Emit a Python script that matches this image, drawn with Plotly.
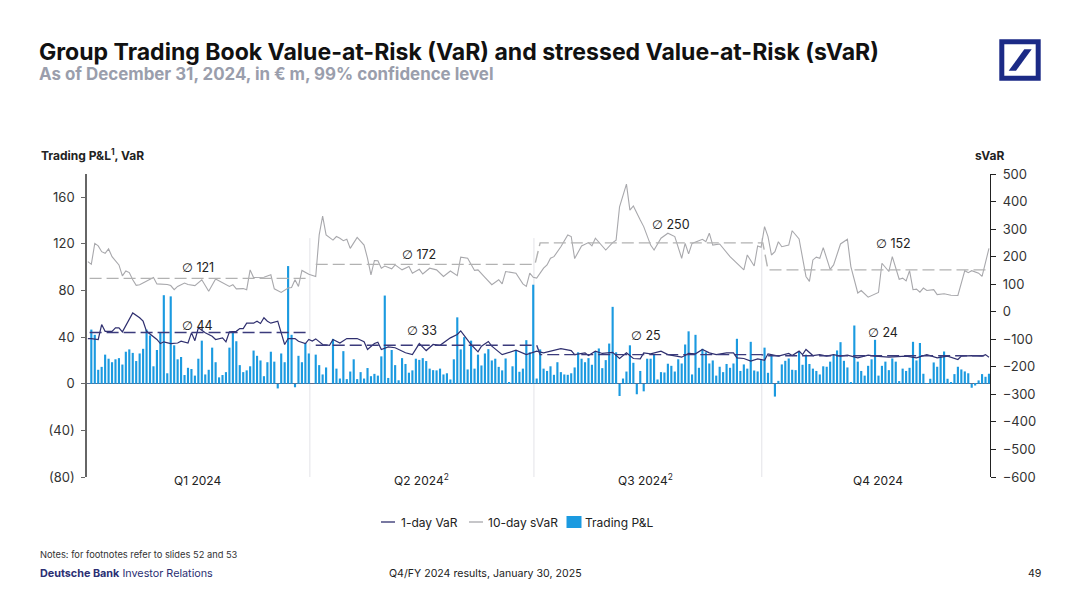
import plotly.graph_objects as go

# =============================================================================
# data
# =============================================================================
pnl_q1 = [46.5, 42, 12, 14.5, 25, 21.5, 18.5, 21, 22, 16.5, 27.5, 29.5, 26.5, 19.5, 26, 30, 46.5, 41.5, 15, 29,
          44, 76, 9, 75, 33, 21, 23, 7.5, 13.7, 12.7, 7, 21.5, 37, 8, 12, 31, 18.5, 5.5, 7.5, 10, 31, 45, 36.5,
          16, 10, 11.5, 15, 28.5, 24, 20, 6.5, 18.5, 27.5, 19, -4, 26, 18.5, 101, 42, -3, 24, 18.5, 35, 26, 0]
pnl_q2 = [25, 16, 8, 14, 0, 38.5, 13, 4.5, 28, 4, 10.5, 21, 4, 10, 4.5, 13.5, 6.5, 8.5, 7, 23.5, 75.7, 5,
          29, 16, 3, 22, 17, 9.5, 11.5, 21.5, 20.5, 22, 19.5, 13, 11.7, 11.5, 13, 8, 9, 3.7, 21, 57, 29.5, 40, 12.3,
          37, 13, 25, 15.7, 26, 29.7, 20, 21.5, 14.5, 11.5, 21.7, 1, 15, 28.3, 10.3, 13, 37.4, 27, 85, 4.5]
pnl_q3 = [29.5, 13, 11, 15, 7.7, 18.5, 10, 8, 7.7, 9, 14, 27, 21.5, 18.5, 22, 16.3, 28, 30.3, 13.4, 20.3, 34.5, 66,
          27, -10.5, 4.5, 10.5, 33, 18, -9, 11, -6.5, 21.5, 21.5, 25, 3.7, 10, 9.7, 17.2, 15.4, 10.5, 21, 17.4, 33.7, 45,
          8, 42, 13.7, 30, 27, 17.4, 20, 7, 14.6, 10, 17, 13.7, 17.4, 38.6, 11, 16.6, 13, 36, 11.4, 10.6, 20.3, 31]
pnl_q4 = [9.4, 25, -11, 2.5, 16.6, 19.7, 21.7, 12, 11.7, 27.7, 16.3, 25, 17, 13, 11, 8, 15, 14.6, 19, 24.9, 28.6,
          35.7, 19.7, 14, 1, 50, 19, 11, 7, 15.4, 21, 37.7, 7, 15.4, 19, 11.7, 21.7, 19, 2.3, 13, 11, 13.7, 36, 20, 35,
          8.6, 0.3, 4.3, 18.3, 14.6, 24.6, 27.7, 4.3, 1, 8.3, 14.6, 12.3, 10.6, 9, -3.4, -1.5, 2.9, 8.3, 6, 8.6]
pnl = pnl_q1 + pnl_q2 + pnl_q3 + pnl_q4
days = list(range(len(pnl)))

var_days = [-1, 0, 2, 3, 4, 6, 7, 8, 9, 12, 14, 15, 16, 18, 19, 20, 21, 23, 25, 26, 28, 29, 30, 31, 33, 35, 36, 38, 39, 40,
            42, 43, 44, 45, 47, 48, 49, 50, 51, 52, 54, 55, 56, 57, 59, 60, 62, 63, 64, 65, 67, 69, 70, 72, 74, 77, 79,
            80, 82, 83, 84, 86, 88, 91, 93, 95, 97, 99, 101, 104, 106, 107, 109, 110, 112, 113, 115, 116, 119, 123, 126,
            129, 131, 134, 136, 139, 140, 143, 144, 146, 148, 151, 153, 155, 157, 159, 160, 162, 165, 167, 169, 171, 173,
            175, 177, 179, 181, 184, 186, 187, 189, 191, 193, 195, 196, 199, 202, 203, 205, 206, 207, 209, 211, 213, 215,
            217, 219, 222, 225, 227, 231, 236, 239, 242, 245, 248, 251, 252, 255, 258, 259, 260]
var_1d = [38.8, 38.8, 38, 50.8, 45, 45, 48, 48, 44.5, 60.8, 56.6, 53.7, 45, 40.8, 38, 34.5, 36, 34.5, 35, 36.5, 35, 43.7, 37,
          48, 43.7, 40.8, 38, 39.4, 36, 44.5, 45, 47.4, 47.4, 52, 52, 53.7, 51.7, 56.6, 53.7, 52, 53.7, 43.7, 33.7, 38.8,
          38.8, 36.5, 34.5, 38, 36.6, 38.5, 33.7, 33, 38, 35, 38.8, 38.8, 36, 29.4, 34.5, 35.7, 29.4, 31.7, 30.9, 26.6, 25,
          34.5, 28.5, 33.7, 33, 39.4, 42.3, 45.4, 37.4, 33.7, 27.4, 32.3, 36.3, 32.3, 25, 28.8, 25, 28, 26.5, 28.5, 30.2,
          28.5, 25, 26.5, 24.2, 28, 26, 27, 21.7, 26.5, 21.7, 21.4, 26.5, 25.7, 28, 25, 24.2, 22.8, 26, 25.7, 29.4, 26.5, 25,
          26.5, 26.5, 22.2, 21.7, 19.4, 21.4, 20.2, 25.7, 23.7, 26, 24.2, 28, 25, 29.4, 24.2, 25, 23.7, 25, 23.7, 24.5, 22.2,
          24.5, 23.7, 22.8, 23.7, 22.2, 25, 22.2, 23.7, 20.8, 23.7, 24.2, 23.7, 25, 22.8]

svar_days = [-1, 0, 1, 2, 3, 4, 5, 6, 8, 9, 10, 11, 12, 13, 14, 16, 18, 19, 22, 23, 24, 25, 27, 28, 30, 32, 34, 36, 38, 40, 41,
             42, 44, 45, 46, 47, 50, 52, 53, 55, 57, 58, 59, 60, 61, 63, 65, 66, 67, 68, 70, 71, 72, 73, 74, 75, 77, 79, 80,
             81, 82, 83, 84, 85, 87, 88, 90, 92, 93, 95, 96, 98, 100, 102, 104, 106, 107, 109, 111, 112, 114, 116, 118, 119,
             120, 123, 125, 126, 127, 128, 129, 131, 132, 133, 134, 136, 138, 139, 140, 142, 144, 145, 146, 149, 151, 152,
             153, 155, 156, 157, 159, 160, 162, 163, 165, 167, 169, 171, 172, 173, 174, 177, 178, 179, 180, 182, 185, 189,
             190, 192, 193, 194, 195, 196, 197, 198, 199, 200, 202, 203, 205, 207, 208, 209, 210, 211, 212, 214, 215, 217,
             219, 220, 222, 223, 225, 228, 229, 231, 232, 234, 235, 236, 237, 238, 239, 240, 241, 242, 244, 245, 247, 249,
             251, 253, 254, 255, 257, 258, 260]
svar_10d = [182, 172, 248, 239, 218, 212, 228, 200, 170, 130, 148, 142, 116, 96, 98, 110, 124, 101, 99, 95, 80, 92, 104, 99, 95,
            116, 74, 119, 106, 92, 98, 83, 84, 80, 152, 124, 125, 134, 83, 70, 86, 88, 116, 92, 150, 136, 128, 279, 347, 279,
            260, 273, 267, 258, 263, 230, 270, 242, 194, 134, 186, 185, 158, 166, 156, 170, 152, 164, 140, 154, 137, 158, 152,
            128, 148, 131, 198, 194, 150, 152, 125, 98, 116, 101, 146, 140, 101, 92, 140, 125, 122, 158, 170, 194, 200, 236,
            279, 273, 193, 239, 251, 239, 267, 224, 251, 260, 381, 463, 369, 384, 333, 309, 242, 224, 267, 285, 273, 194, 248,
            210, 248, 263, 254, 285, 242, 246, 200, 152, 206, 166, 239, 234, 309, 273, 206, 218, 254, 236, 242, 294, 264, 128,
            110, 188, 198, 194, 233, 154, 170, 246, 263, 164, 68, 77, 53, 70, 176, 146, 200, 118, 122, 112, 149, 80, 82, 71, 86,
            77, 80, 62, 65, 60, 59, 149, 142, 149, 140, 128, 230]

# quarterly averages, Q1 and Q2 are not joined on the slide
avg_var_days = [-0.5, 63, None, 65, 129, 130, 194, 196, 260]
avg_var = [44, 44, None, 33, 33, 25, 25, 24, 24]
avg_svar_days = [-0.5, 63, None, 65, 128.5, 130, 194.5, 196, 260]
avg_svar = [121, 121, None, 172, 172, 250, 250, 152, 152]

quarter_ends = [63.3, 128.2, 194.2]
quarter_mids = [30.8, 95.5, 160.5, 228]
quarter_labels = ["Q1 2024", "Q2 2024<sup>2</sup>", "Q3 2024<sup>2</sup>", "Q4 2024"]

left_ticks = [-80, -40, 0, 40, 80, 120, 160]
left_labels = ["(80)", "(40)", "0", "40", "80", "120", "160"]
right_ticks = [-600, -500, -400, -300, -200, -100, 0, 100, 200, 300, 400, 500]

# =============================================================================
# colours and slide geometry
# =============================================================================
NAVY = "#2f2f6f"
GREY = "#a8a8ac"
BLUE = "#1b9ae0"
LOGO = "#1b2a86"
FONT = "Inter, DejaVu Sans"
AVG = '<span style="font-family:DejaVu Sans">∅</span> '
W, H = 1080, 607
L, R, T, B = 87, 990, 174, 477


def px(x):
    return (x - L) / (R - L)


def py(y):
    return (B - y) / (B - T)


def text(x, y, s, size=12, color="#222222", anchor="center"):
    return dict(x=px(x), y=py(y), xref="paper", yref="paper", text=s, showarrow=False, xanchor=anchor, yanchor="middle",
                borderpad=0, borderwidth=0, font=dict(family=FONT, size=size, color=color))


def legend_line(x0, x1, color):
    return dict(type="line", x0=px(x0), x1=px(x1), y0=py(522), y1=py(522), xref="paper", yref="paper",
                line=dict(color=color, width=1.3))


fig = go.Figure()
fig.add_trace(go.Scatter(x=var_days, y=var_1d, name="1-day VaR", mode="lines", line=dict(color=NAVY, width=1.2)))
fig.add_trace(go.Scatter(x=svar_days, y=svar_10d, name="10-day sVaR", mode="lines", yaxis="y2",
                         line=dict(color=GREY, width=1.1)))
fig.add_trace(go.Bar(x=days, y=pnl, name="Trading P&L", marker=dict(color=BLUE, line_width=0), width=0.62))
fig.add_trace(go.Scatter(x=avg_var_days, y=avg_var, mode="lines", hoverinfo="skip",
                         line=dict(color="#3b3b7c", width=1.4, dash="12px,5px")))
fig.add_trace(go.Scatter(x=avg_svar_days, y=avg_svar, mode="lines", hoverinfo="skip", yaxis="y2",
                         line=dict(color="#b2b2b2", width=1.4, dash="12px,5px")))

annotations = [
    text(39, 52, "<b>Group Trading Book Value-at-Risk (VaR) and stressed Value-at-Risk (sVaR)</b>", 23.06, "#111111", "left"),
    text(39, 74, "<b>As of December 31, 2024, in € m, 99% confidence level</b>", 16.9, "#9a9eac", "left"),
    text(41, 155, "<b>Trading P&L<sup>1</sup>, VaR</b>", 12, "#222222", "left"),
    text(989.5, 155, "<b>sVaR</b>", 12),
    text(40, 554, "Notes: for footnotes refer to slides 52 and 53", 9.3, "#333333", "left"),
    text(40, 573, "<b>Deutsche Bank</b> Investor Relations", 10.8, "#2b2f73", "left"),
    text(485, 573, "Q4/FY 2024 results, January 30, 2025", 10.6),
    text(1034, 573, "49", 10.6),
    text(198, 267, AVG + "121", 12.5),
    text(197, 325, AVG + "44", 12.5),
    text(419, 254, AVG + "172", 12.5),
    text(422, 330, AVG + "33", 12.5),
    text(671, 224, AVG + "250", 12.5),
    text(646, 335, AVG + "25", 12.5),
    text(893, 243, AVG + "152", 12.5),
    text(883, 332, AVG + "24", 12.5),
    # legend, the slide draws it much tighter than plotly's own legend can
    text(401, 522, "1-day VaR", 12, "#222222", "left"),
    text(488, 522, "10-day sVaR", 12, "#222222", "left"),
    text(585, 522, "Trading P&L", 12, "#222222", "left"),
]
for day, label in zip(quarter_mids, quarter_labels):
    annotations.append(dict(x=day, y=py(480), xref="x", yref="paper", text=label, showarrow=False, yanchor="middle",
                            borderpad=0, borderwidth=0, font=dict(family=FONT, size=12, color="#222222")))

shapes = [dict(type="line", x0=day, x1=day, y0=-80, y1=125, xref="x", yref="y", layer="below",
               line=dict(color="#e3e3e8", width=1)) for day in quarter_ends]
shapes.append(legend_line(381, 395, NAVY))
shapes.append(legend_line(469, 483, GREY))
shapes.append(dict(type="rect", x0=px(566.5), x1=px(581.5), y0=py(516), y1=py(528), xref="paper", yref="paper",
                   line_width=0, fillcolor=BLUE))
# logo
shapes.append(dict(type="rect", x0=px(1001.8), x1=px(1038.2), y0=py(41.8), y1=py(78.2), xref="paper", yref="paper",
                   line=dict(color=LOGO, width=5), fillcolor="white"))
shapes.append(dict(type="path", xref="paper", yref="paper", fillcolor=LOGO, line_width=0,
                   path=f"M {px(1024.3)} {py(49.3)} L {px(1031.7)} {py(49.3)} L {px(1016)} {py(70.7)} L {px(1008.7)} {py(70.7)} Z"))

fig.update_layout(
    width=W, height=H,
    margin=dict(l=L, r=W - R, t=T, b=H - B, pad=0),
    paper_bgcolor="white", plot_bgcolor="white",
    showlegend=False,
    font=dict(family=FONT, size=12, color="#222222"),
    xaxis=dict(range=[-1.25, 260.3], showgrid=False, zeroline=False, showline=False, showticklabels=False, ticks=""),
    yaxis=dict(range=[-80, 180], tickvals=left_ticks, ticktext=left_labels, showgrid=False, showline=True,
               linecolor="#666666", linewidth=1.5, ticks="outside", ticklen=4, tickcolor="#666666", ticklabelstandoff=4,
               zeroline=True, zerolinecolor="#5c6c8c", zerolinewidth=1.2, tickfont=dict(size=13, color="#333333")),
    yaxis2=dict(range=[-600, 500], overlaying="y", side="right", tickvals=right_ticks, showgrid=False, showline=True,
                linecolor="#222222", linewidth=1.2, ticks="outside", ticklen=5, tickcolor="#222222", zeroline=False,
                ticklabelstandoff=4, tickformat="d", tickfont=dict(size=13, color="#333333")),
    annotations=annotations,
    shapes=shapes,
)

fig.write_html("out.html", config={"displayModeBar": False}, post_script="document.body.style.margin='0';")
